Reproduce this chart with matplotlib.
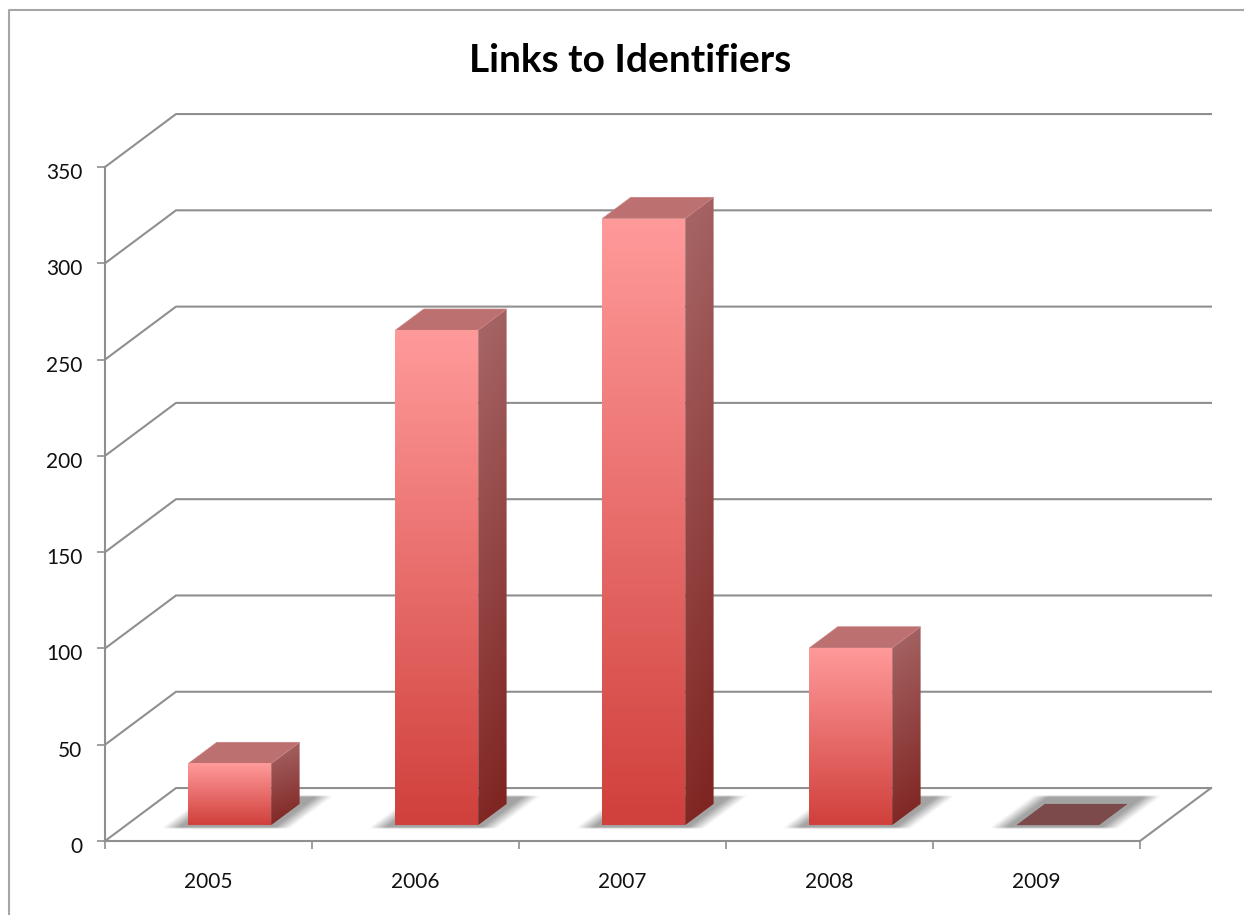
import numpy as np
import matplotlib as mpl
mpl.use('Agg')
import matplotlib.pyplot as plt
from matplotlib.colors import LinearSegmentedColormap
from matplotlib.lines import Line2D
from matplotlib.patches import Polygon
from matplotlib.path import Path
from matplotlib.transforms import ScaledTranslation

anos = ['2005', '2006', '2007', '2008', '2009']
valores = [32, 257, 315, 92, 0]
titulo = 'Links to Identifiers'
y_ticks = [0, 50, 100, 150, 200, 250, 300, 350]

# oblique depth of the fake 3d box, in axis units
DX = 0.343
DY = 27.5
LINHA = '#8f8f8f'

plt.rcParams['font.family'] = ['Lato', 'DejaVu Sans']

fig = plt.figure(figsize=(12.44, 9.15), dpi=100)
ax = fig.add_axes([105 / 1244, 1 - 841 / 915, 1035 / 1244, 674 / 915])


def proj(x, v, d):
    return x + d * DX, v + d * DY


def gradiente(pts, cor_topo, cor_base, z, inclina=0.0):
    pts = np.array(pts)
    x0, x1 = pts[:, 0].min(), pts[:, 0].max()
    y0, y1 = pts[:, 1].min(), pts[:, 1].max()
    yy, xx = np.mgrid[0:1:200j, 0:1:40j]
    g = np.clip(yy + inclina * (xx - 0.5), 0, 1)
    cmap = LinearSegmentedColormap.from_list('g', [cor_base, cor_topo])
    im = ax.imshow(g, cmap=cmap, vmin=0, vmax=1, origin='lower', aspect='auto',
                   extent=(x0, x1, y0, y1), zorder=z, interpolation='bilinear')
    p = Polygon(pts, closed=True, transform=ax.transData, fc='none', ec='none')
    ax.add_patch(p)
    im.set_clip_path(p)


def sombra(x0, x1, z):
    # soft grey shadow on the floor, wider than the base of the bar
    d0, d1 = 0.24, 0.84
    pts = [proj(x0 - 0.07, 0, d0), proj(x1 + 0.07, 0, d0),
           proj(x1 + 0.07, 0, d1), proj(x0 - 0.07, 0, d1)]
    pts = np.array(pts)
    xs = np.linspace(pts[:, 0].min() - 0.12, pts[:, 0].max() + 0.12, 300)
    ys = np.linspace(pts[:, 1].min() - 2, pts[:, 1].max() + 2, 60)
    gx, gy = np.meshgrid(xs, ys)
    m = Path(pts).contains_points(np.c_[gx.ravel(), gy.ravel()]).reshape(gx.shape).astype(float)
    kx = np.ones(25) / 25
    ky = np.ones(3) / 3
    m = np.apply_along_axis(lambda r: np.convolve(r, kx, mode='same'), 1, m)
    m = np.apply_along_axis(lambda c: np.convolve(c, ky, mode='same'), 0, m)
    rgba = np.zeros(m.shape + (4,))
    rgba[..., :3] = 0.64
    rgba[..., 3] = m
    ax.imshow(rgba, origin='lower', aspect='auto', zorder=z, clip_on=False,
              extent=(xs[0], xs[-1], ys[0], ys[-1]), interpolation='bilinear')


# walls and gridlines
n = len(anos)
for v in y_ticks:
    xa, ya = proj(0, v, 1)
    xb, yb = proj(n, v, 1)
    ax.plot([0, xa, xb], [v, ya, yb], color=LINHA, lw=1.5, zorder=1, clip_on=False)
xa, ya = proj(n, 0, 1)
ax.plot([n, xa], [0, ya], color=LINHA, lw=1.5, zorder=1, clip_on=False)

# bars
for i, v in enumerate(valores):
    x0 = i + 0.3
    x1 = i + 0.7
    d0, d1 = 0.3, 0.7
    sombra(x0, x1, 2 + i * 0.1)
    z = 3 + i
    if v == 0:
        ax.add_patch(Polygon([proj(x0, 0, d0), proj(x1, 0, d0), proj(x1, 0, d1), proj(x0, 0, d1)],
                             fc='#7c4a4a', ec='none', zorder=z, clip_on=False))
        continue
    frente = [proj(x0, 0, d0), proj(x1, 0, d0), proj(x1, v, d0), proj(x0, v, d0)]
    lado = [proj(x1, 0, d0), proj(x1, 0, d1), proj(x1, v, d1), proj(x1, v, d0)]
    topo = [proj(x0, v, d0), proj(x1, v, d0), proj(x1, v, d1), proj(x0, v, d1)]
    gradiente(lado, '#a56464', '#7f2522', z, inclina=-0.12)
    ax.add_patch(Polygon(topo, fc='#bd7070', ec='#c98080', lw=0.5, zorder=z + 0.1, clip_on=False))
    gradiente(frente, '#ff9a9a', '#d0403c', z + 0.2)

ax.set_xlim(0, n)
ax.set_ylim(0, 350)
ax.patch.set_visible(False)
for s in ['top', 'right']:
    ax.spines[s].set_visible(False)
for s in ['left', 'bottom']:
    ax.spines[s].set_color(LINHA)
    ax.spines[s].set_linewidth(1.5)
    ax.spines[s].set_zorder(2)

ax.set_yticks(y_ticks)
ax.set_xticks(np.arange(n + 1))
ax.set_xticklabels([])
ax.set_xticks(np.arange(n) + 0.5, minor=True)
ax.set_xticklabels(anos, minor=True)
ax.tick_params(axis='x', which='major', length=5.8, width=1.2, color=LINHA)
ax.tick_params(axis='x', which='minor', length=0, pad=22.5, labelsize=15, labelcolor='#111111')
ax.tick_params(axis='y', length=5.8, width=1.2, color=LINHA, pad=10.5, labelsize=15, labelcolor='#111111')
desce = ScaledTranslation(0, -4 / 100, fig.dpi_scale_trans)
for t in ax.get_yticklabels():
    t.set_transform(t.get_transform() + desce)

fig.text(630 / 1244, 1 - 60 / 915, titulo, ha='center', va='center', fontsize=28, fontweight='bold', color='black')

# outer chart frame, runs off the right and bottom of the crop
fig.add_artist(Line2D([9 / 1244, 9 / 1244, 1], [0, 1 - 9.5 / 915, 1 - 9.5 / 915],
                      color='#a6a6a6', lw=1.5, transform=fig.transFigure))

fig.savefig('out.png', dpi=100)
